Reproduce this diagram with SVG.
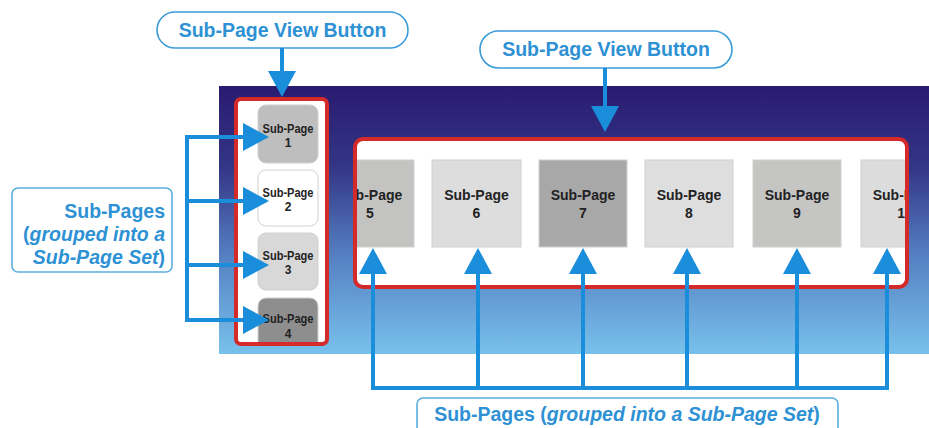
<svg xmlns="http://www.w3.org/2000/svg" width="929" height="428" viewBox="0 0 929 428">
<style>
.callout{fill:#fff;stroke:#3b9bd9;stroke-width:1.6}
.ctext{font-family:"Liberation Sans",Arial,sans-serif;font-weight:bold;font-size:19.5px;fill:#2d91d4}
.red{fill:#fff;stroke:#d42a2a;stroke-width:4}
.lt{font-family:"Liberation Sans",Arial,sans-serif;font-weight:bold;font-size:12px;fill:#222;text-anchor:middle}
.rt{font-family:"Liberation Sans",Arial,sans-serif;font-weight:bold;font-size:14px;fill:#222;text-anchor:middle}
.tile{stroke:#d0d0d0;stroke-width:1}
.conn{fill:none;stroke:#1a8ddb;stroke-width:4}
.arr{marker-end:url(#ah)}
</style>
<defs>
<linearGradient id="bg" x1="0" y1="0" x2="0" y2="1">
<stop offset="0" stop-color="#2a1b70"/>
<stop offset="0.3" stop-color="#333585"/>
<stop offset="0.65" stop-color="#5783c4"/>
<stop offset="1" stop-color="#78c1ec"/>
</linearGradient>
<marker id="ah" viewBox="0 -14 26 28" refX="0" refY="0" markerWidth="26" markerHeight="28" markerUnits="userSpaceOnUse" orient="auto">
<path d="M0,-14 L26,0 L0,14 Z" fill="#1a8ddb"/>
</marker>
<clipPath id="clipL"><rect x="238" y="101" width="87" height="241"/></clipPath>
<clipPath id="clipR"><rect x="357" y="141" width="548" height="144"/></clipPath>
</defs>

<rect id="background" x="219" y="86" width="710" height="268" fill="url(#bg)"/>

<g id="left-panel">
<rect class="red" x="236" y="99" width="91" height="245" rx="5"/>
<g clip-path="url(#clipL)">
<g id="sp1"><rect class="tile" x="258" y="105" width="60" height="58" rx="8" fill="#bebebe"/>
<text class="lt" x="288" y="133" textLength="51" lengthAdjust="spacingAndGlyphs">Sub-Page</text><text class="lt" x="288" y="147">1</text></g>
<g id="sp2"><rect class="tile" x="258" y="170" width="60" height="56" rx="8" fill="#ffffff"/>
<text class="lt" x="288" y="197" textLength="51" lengthAdjust="spacingAndGlyphs">Sub-Page</text><text class="lt" x="288" y="211">2</text></g>
<g id="sp3"><rect class="tile" x="258" y="233" width="60" height="57" rx="8" fill="#d8d8d8"/>
<text class="lt" x="288" y="260" textLength="51" lengthAdjust="spacingAndGlyphs">Sub-Page</text><text class="lt" x="288" y="274">3</text></g>
<g id="sp4"><rect class="tile" x="258" y="298" width="60" height="60" rx="8" fill="#8e8e8e"/>
<text class="lt" x="288" y="323" textLength="51" lengthAdjust="spacingAndGlyphs">Sub-Page</text><text class="lt" x="288" y="338">4</text></g>
</g>
</g>

<g id="right-panel">
<rect class="red" x="355" y="139" width="552" height="148" rx="8"/>
<g clip-path="url(#clipR)">
<g id="sp5"><rect class="tile" x="325" y="160" width="89" height="87" fill="#c3c3c1"/>
<text class="rt" x="370" y="200">Sub-Page</text><text class="rt" x="370" y="218">5</text></g>
<g id="sp6"><rect class="tile" x="432" y="160" width="89" height="87" fill="#dddddd"/>
<text class="rt" x="476.5" y="200">Sub-Page</text><text class="rt" x="476.5" y="218">6</text></g>
<g id="sp7"><rect class="tile" x="539" y="160" width="88" height="87" fill="#a8a8a8"/>
<text class="rt" x="583" y="200">Sub-Page</text><text class="rt" x="583" y="218">7</text></g>
<g id="sp8"><rect class="tile" x="645" y="160" width="88" height="87" fill="#dedede"/>
<text class="rt" x="689" y="200">Sub-Page</text><text class="rt" x="689" y="218">8</text></g>
<g id="sp9"><rect class="tile" x="753" y="160" width="88" height="87" fill="#c5c5c3"/>
<text class="rt" x="797" y="200">Sub-Page</text><text class="rt" x="797" y="218">9</text></g>
<g id="sp10"><rect class="tile" x="861" y="160" width="88" height="87" fill="#dcdcdc"/>
<text class="rt" x="905" y="200">Sub-Page</text><text class="rt" x="905" y="218">10</text></g>
</g>
</g>

<g id="callout-left">
<rect class="callout" x="157" y="12" width="251" height="36" rx="18"/>
<text class="ctext" x="282.5" y="37" text-anchor="middle">Sub-Page View Button</text>
</g>
<g id="callout-right">
<rect class="callout" x="480" y="31" width="252" height="37" rx="18.5"/>
<text class="ctext" x="606" y="56" text-anchor="middle">Sub-Page View Button</text>
</g>
<g id="label-left">
<rect x="12" y="188" width="160" height="84" rx="6" fill="#fff" stroke="#5aaee0" stroke-width="1.6"/>
<text class="ctext" x="165" y="218" text-anchor="end">Sub-Pages</text>
<text class="ctext" x="165" y="241" text-anchor="end">(<tspan font-style="italic">grouped into a</tspan></text>
<text class="ctext" x="165" y="264" text-anchor="end"><tspan font-style="italic">Sub-Page Set</tspan>)</text>
</g>
<g id="label-bottom">
<rect x="417" y="398" width="421" height="40" rx="6" fill="#fff" stroke="#5aaee0" stroke-width="1.6"/>
<text class="ctext" x="627" y="421" text-anchor="middle">Sub-Pages (<tspan font-style="italic">grouped into a Sub-Page Set</tspan>)</text>
</g>

<g id="connectors">
<path class="conn arr" d="M282,48 V71"/>
<path class="conn arr" d="M605,68 V106"/>
<path class="conn" stroke-linecap="square" d="M187,137 V320"/>
<path class="conn arr" d="M187,137 H243"/>
<path class="conn arr" d="M187,201 H243"/>
<path class="conn arr" d="M187,265 H243"/>
<path class="conn arr" d="M187,320 H243"/>
<path class="conn" stroke-linecap="square" d="M373,388 H887"/>
<path class="conn arr" d="M373,388 V274"/>
<path class="conn arr" d="M478,388 V274"/>
<path class="conn arr" d="M583,388 V274"/>
<path class="conn arr" d="M687,388 V274"/>
<path class="conn arr" d="M797,388 V274"/>
<path class="conn arr" d="M887,388 V274"/>
</g>
</svg>
